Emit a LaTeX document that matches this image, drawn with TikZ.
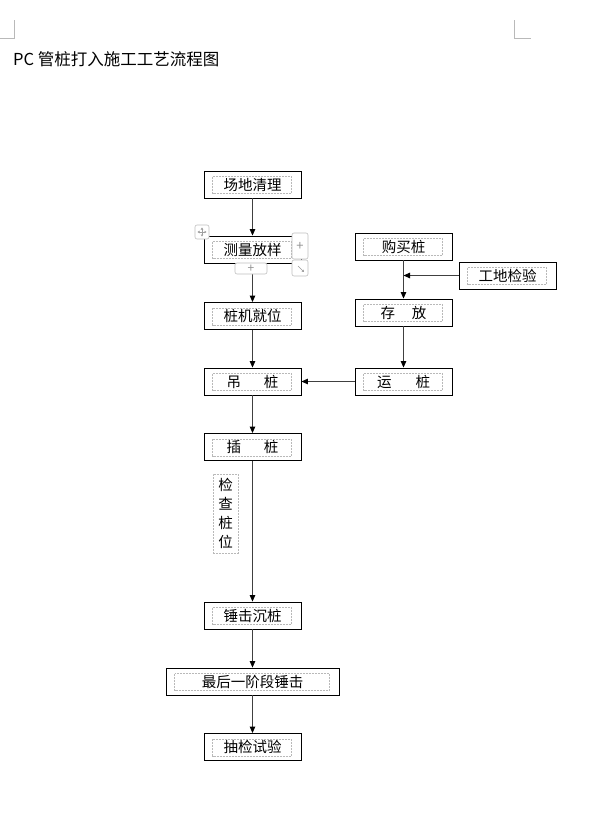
\documentclass[tikz,border=0pt]{standalone}
\usepackage{fontspec}
\setmainfont{Noto Sans CJK SC}
\usetikzlibrary{arrows.meta}

\begin{document}
\begin{tikzpicture}[x=1pt,y=-1pt,
  stepbox/.style={draw,line width=0.9pt,minimum width=97pt,minimum height=27pt,inner sep=0pt,font=\fontsize{14.5}{16}\selectfont},
  frame/.style={draw=gray!55,dash pattern=on 2pt off 1pt,line width=0.8pt},
  flow/.style={draw=black!75,line width=0.9pt,-{Triangle[length=6.5pt,width=5.5pt,color=black]}},
  handle/.style={draw=gray!50,fill=white,rounded corners=2pt,line width=0.6pt},
  cornermark/.style={draw=gray!55,line width=0.6pt}]
\useasboundingbox (0,0) rectangle (596,825);
% page corner marks
\draw[cornermark] (14,20) -- (14,38) -- (0,38);
\draw[cornermark] (514,20) -- (514,38) -- (531,38);
\node[anchor=west,inner sep=0pt,font=\fontsize{16.5}{18}\selectfont] (title) at (13,59) {PC 管桩打入施工工艺流程图};

% main column
\node[stepbox] (clear) at (252.5,184.5) {场地清理};
\node[stepbox] (survey) at (252.5,249.5) {测量放样};
\node[stepbox] (rig) at (252.5,316) {桩机就位};
\node[stepbox] (lift) at (252.5,381.5) {吊\hspace{23pt}桩};
\node[stepbox] (insert) at (252.5,447) {插\hspace{23pt}桩};
\node[stepbox] (drive) at (252.5,615.5) {锤击沉桩};
\node[stepbox,minimum width=173pt] (final) at (252.5,681.5) {最后一阶段锤击};
\node[stepbox] (test) at (252.5,747) {抽检试验};

% pile supply column
\node[stepbox] (buy) at (403.5,246.5) {购买桩};
\node[stepbox] (inspect) at (507.5,275.5) {工地检验};
\node[stepbox] (store) at (403.5,312.5) {存\hspace{17pt}放};
\node[stepbox] (transport) at (403.5,381.5) {运\hspace{24pt}桩};

\node[frame,inner sep=0pt,minimum width=25pt,minimum height=79pt,align=center,
  font=\fontsize{14.5}{19}\selectfont] (checkpos) at (225.5,513.5) {检\\查\\桩\\位};

% text frames
\foreach \n in {clear,survey,rig,lift,insert,drive,final,test,buy,inspect,store,transport}
  \draw[frame] ([xshift=9pt,yshift=-6pt]\n.north west) rectangle ([xshift=-10pt,yshift=5pt]\n.south east);

\draw[flow] (clear) -- (survey);
\draw[flow] (survey) -- (rig);
\draw[flow] (rig) -- (lift);
\draw[flow] (lift) -- (insert);
\draw[flow] (insert) -- (drive);
\draw[flow] (drive) -- (final);
\draw[flow] (final) -- (test);
\draw[flow] (buy) -- (store);
\draw[flow] (store) -- (transport);
\draw[flow] (transport) -- (lift);
\draw[flow] (inspect.west) -- (inspect.west -| buy.south);

% editing handles round the selected box
\draw[handle] (195,225) rectangle (209,239);
\draw[gray!75,line width=0.5pt,{Triangle[length=2pt,width=2.5pt]}-{Triangle[length=2pt,width=2.5pt]}] (197.5,232) -- (206.5,232);
\draw[gray!75,line width=0.5pt,{Triangle[length=2pt,width=2.5pt]}-{Triangle[length=2pt,width=2.5pt]}] (202,227.5) -- (202,236.5);
\draw[handle] (292,233) rectangle (308,259);
\node[text=gray!85,inner sep=0pt,font=\fontsize{13}{13}\selectfont] (plusright) at (300,246) {+};
\draw[handle] (235,263) rectangle (267,274);
\node[text=gray!85,inner sep=0pt,font=\fontsize{12}{12}\selectfont] (plusdown) at (251,268.5) {+};
\draw[handle] (292,260) rectangle (308,276);
\draw[gray!80,line width=0.5pt,-{Triangle[length=2pt,width=2.5pt]}] (298,266) -- (304,272);
\end{tikzpicture}
\end{document}
